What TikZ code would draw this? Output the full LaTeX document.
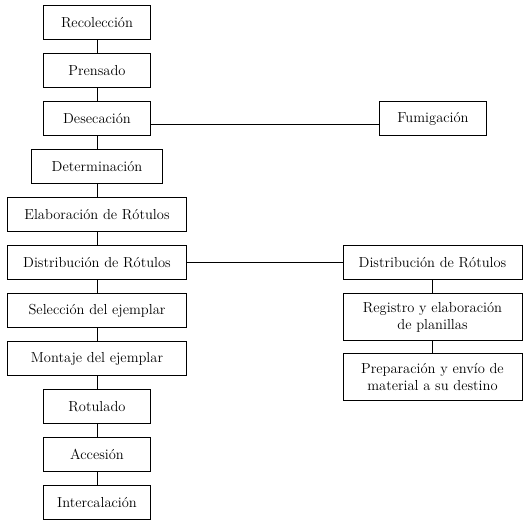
\documentclass[tikz,border=0pt]{standalone}
\usepackage{tikz}
\usetikzlibrary{positioning}

\begin{document}
\begin{tikzpicture}[
            x=1pt, y=1pt, line width=0.8pt, node distance=13.8pt,
            stepbox/.style={draw, rectangle, inner sep=0pt, outer sep=0pt, minimum height=34.2pt, font=\fontsize{14.5}{17}\selectfont, align=center},
            narrow/.style={stepbox, minimum width=107.2pt},
            wide/.style={stepbox, minimum width=179.2pt},
            tall/.style={wide, minimum height=47.2pt}
        ]
            \useasboundingbox (0,0) rectangle (530,-530);

            % Main column
            \node[narrow] (recol) at (97,-22.5) {Recolección};
            \node[narrow, below=of recol] (prens) {Prensado};
            \node[narrow, below=of prens] (desec) {Desecación};
            \node[stepbox, minimum width=131.2pt, below=of desec] (deter) {Determinación};
            \node[wide, below=of deter] (elab) {Elaboración de Rótulos};
            \node[wide, below=of elab] (distr) {Distribución de Rótulos};
            \node[wide, below=of distr] (selec) {Selección del ejemplar};
            \node[wide, below=of selec] (monta) {Montaje del ejemplar};
            \node[narrow, below=of monta] (rotul) {Rotulado};
            \node[narrow, below=of rotul] (acces) {Accesión};
            \node[narrow, below=of acces] (inter) {Intercalación};
            \foreach \a/\b in {recol/prens, prens/desec, desec/deter, deter/elab, elab/distr,
                distr/selec, selec/monta, monta/rotul, rotul/acces, acces/inter}
                \draw (\a) -- (\b);

            % Fumigation
            \node[narrow] (fumig) at (433,-118.5) {Fumigación};
            \draw ([yshift=-6pt]desec.east) -- ([yshift=-6pt]fumig.west);

            % Side branch
            \node[wide] (distr2) at (432.5,-262.5) {Distribución de Rótulos};
            \node[tall, below=of distr2] (regis) {Registro y elaboración\\de planillas};
            \node[tall, below=12.8pt of regis] (prepa) {Preparación y envío de\\material a su destino};
            \draw (distr) -- (distr2);
            \draw (distr2) -- (regis);
            \draw (regis) -- (prepa);
        \end{tikzpicture}
\end{document}
